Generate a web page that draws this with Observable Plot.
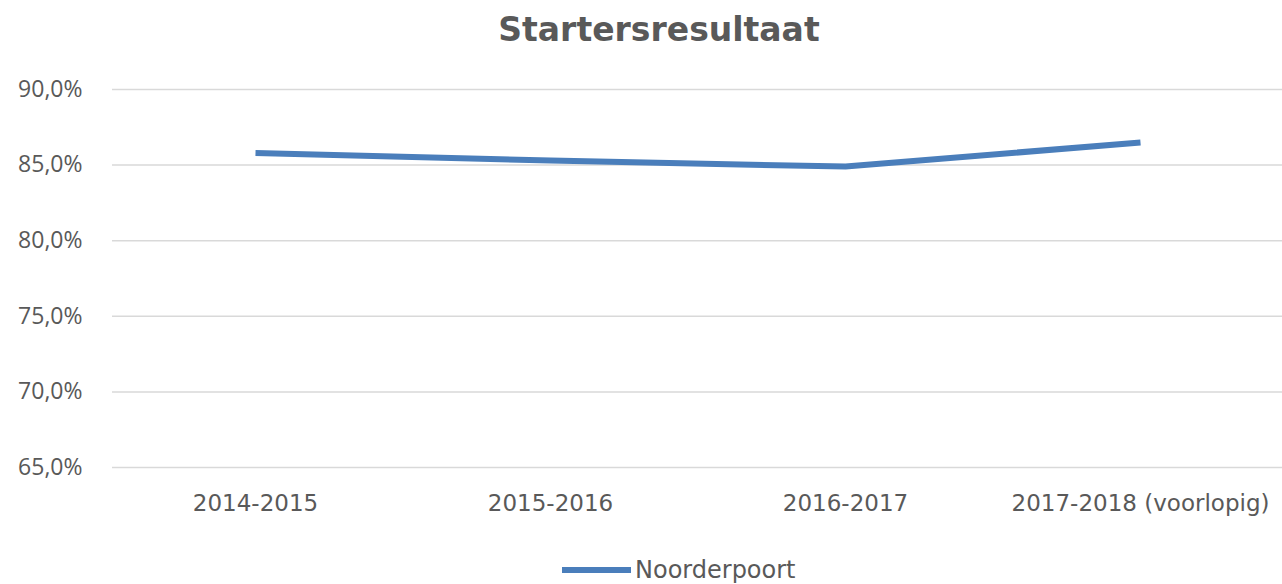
<!DOCTYPE html>
<html>
<head>
<meta charset="utf-8">
<script src="https://cdn.jsdelivr.net/npm/d3@7"></script>
<script src="https://cdn.jsdelivr.net/npm/@observablehq/plot@0.6"></script>
<style>
  html, body { margin: 0; padding: 0; background: #fff; }
  #wrap { position: relative; width: 1282px; height: 584px; overflow: hidden; }
  #title { position: absolute; left: 0; top: 0; width: 1282px; height: 60px; line-height: 60px;
           text-align: center; font-family: "DejaVu Sans", sans-serif; font-weight: bold;
           font-size: 33px; color: #595959; padding-left: 36px; box-sizing: border-box; }
  #chart { position: absolute; left: 0; top: 60px; }
  #legend { position: absolute; left: 562px; top: 556px; height: 28px; display: flex; align-items: center;
            font-family: "DejaVu Sans", sans-serif; font-size: 24px; color: #595959; }
  #legend .sw { width: 69px; height: 6px; background: #4a7ebb; margin-right: 4px; }
</style>
</head>
<body>
<div id="wrap">
  <div id="title">Startersresultaat</div>
  <div id="chart"></div>
  <div id="legend"><span class="sw"></span><span>Noorderpoort</span></div>
</div>
<script>
const years = ["2014-2015", "2015-2016", "2016-2017", "2017-2018 (voorlopig)"];
const values = [85.8, 85.3, 84.9, 86.5];
const seriesName = "Noorderpoort";
const yTicks = [65, 70, 75, 80, 85, 90];

const data = years.map((y, i) => ({year: y, value: values[i], series: seriesName}));
const fmt = d => d.toFixed(1).replace(".", ",") + "%";

const chart = Plot.plot({
  width: 1282,
  height: 480,
  marginTop: 29,
  marginBottom: 73,
  marginLeft: 112,
  marginRight: 0,
  style: {background: "#fff", color: "#595959"},
  x: {type: "point", domain: years, padding: 0.478, label: null},
  y: {domain: [65, 90], label: null},
  marks: [
    Plot.gridY(yTicks, {stroke: "#d9d9d9", strokeOpacity: 1, strokeWidth: 1.5}),
    Plot.axisY(yTicks, {tickSize: 0, tickPadding: 30, tickFormat: fmt, fontSize: 23,
      fontFamily: "Open Sans", fill: "#595959", label: null}),
    Plot.axisX({tickSize: 0, tickPadding: 27, fontSize: 23, fontFamily: "DejaVu Sans",
      fill: "#595959", label: null}),
    Plot.line(data, {x: "year", y: "value", stroke: "#4a7ebb", strokeWidth: 6,
      strokeLinecap: "butt", strokeLinejoin: "round"})
  ]
});
document.getElementById("chart").appendChild(chart);
</script>
</body>
</html>
